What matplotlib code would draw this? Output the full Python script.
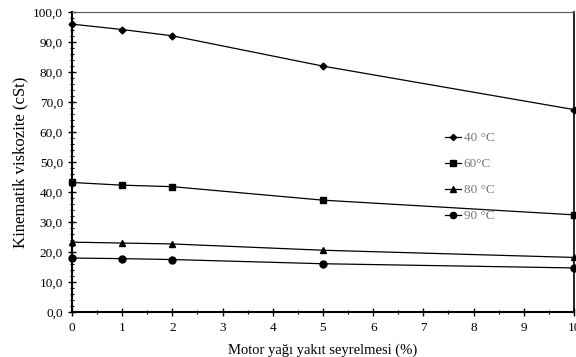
import numpy as np
import matplotlib.pyplot as plt
from matplotlib.ticker import MultipleLocator

plt.rcParams['font.family'] = ['Liberation Serif', 'DejaVu Serif']

dilution = [0, 1, 2, 5, 10]
visc_40 = [96.0, 94.2, 92.1, 82.0, 67.5]
visc_60 = [43.2, 42.3, 41.8, 37.3, 32.4]
visc_80 = [23.3, 23.0, 22.7, 20.6, 18.2]
visc_90 = [18.0, 17.8, 17.5, 16.1, 14.7]
labels = ['40 °C', '60°C', '80 °C', '90 °C']
markers = ['D', 's', '^', 'o']
msizes = [3.5, 5, 5, 5]

fig = plt.figure(figsize=(5.76, 3.57), dpi=100)
ax = fig.add_axes([0.125, 0.126, 0.8715, 0.84])

for y, lab, m, ms in zip([visc_40, visc_60, visc_80, visc_90], labels, markers, msizes):
    ax.plot(dilution, y, color='k', lw=0.9, marker=m, ms=ms, label=lab, clip_on=False)

ax.set_xlim(0, 10)
ax.set_ylim(0, 100)
ax.xaxis.set_major_locator(MultipleLocator(1))
ax.xaxis.set_minor_locator(MultipleLocator(0.5))
ax.yaxis.set_major_locator(MultipleLocator(10))
ax.yaxis.set_minor_locator(MultipleLocator(2))
ax.yaxis.set_major_formatter(plt.FuncFormatter(lambda v, p: ('%.1f' % v).replace('.', ',')))
ax.tick_params(which='major', direction='inout', length=6, width=1, labelsize=9.5)
ax.tick_params(axis='x', which='major', pad=4)
ax.tick_params(which='minor', direction='inout', length=3, width=0.8)
for s in ['left', 'bottom']:
    ax.spines[s].set_linewidth(1.5)
ax.spines['top'].set_color('#555555')
ax.spines['right'].set_linewidth(1.2)

ax.set_xlabel('Motor yağı yakıt seyrelmesi (%)', fontsize=10.5, labelpad=7)
ax.set_ylabel('Kinematik viskozite (cSt)', fontsize=12, labelpad=3)

leg = ax.legend(loc='upper left', bbox_to_anchor=(0.72, 0.64), frameon=False,
                fontsize=9.5, handlelength=1.2, handletextpad=0.2, labelspacing=1.05,
                markerscale=0.9)
for t in leg.get_texts():
    t.set_color('#777777')

fig.savefig('out.png', dpi=100)
